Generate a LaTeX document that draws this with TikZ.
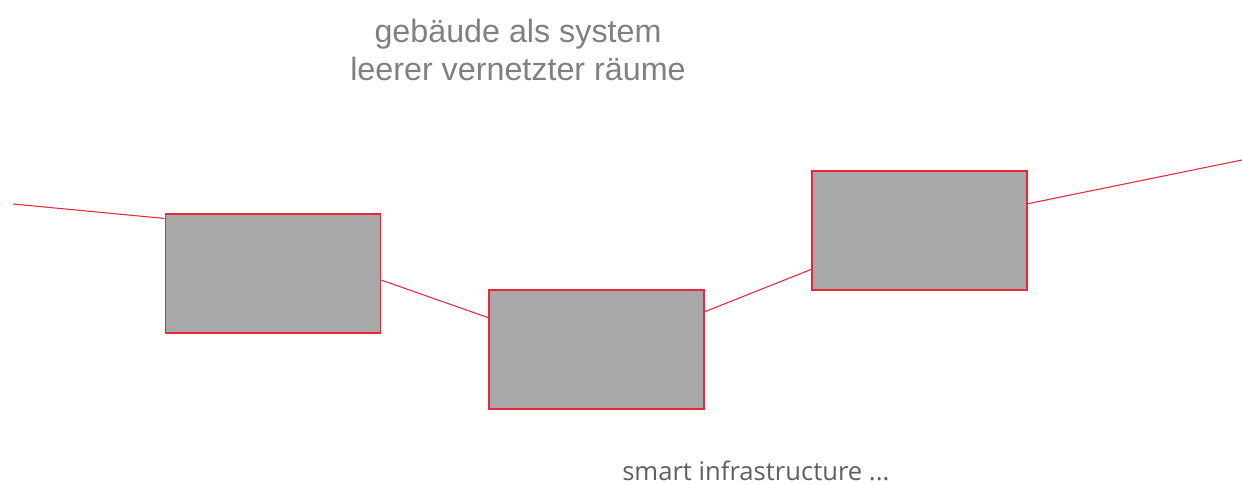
\documentclass[tikz,border=0pt]{standalone}
\usepackage{fontspec}
\setmainfont{Liberation Sans}
\newfontfamily\infrafont{Open Sans}
\usetikzlibrary{calc}
\definecolor{linered}{RGB}{232,40,56}
\definecolor{roomgray}{RGB}{168,168,168}
\definecolor{titlegray}{RGB}{128,128,128}
\definecolor{notegray}{RGB}{95,95,95}
\tikzset{x=0.75pt,y=-0.75pt,
  room/.style={draw=linered,fill=roomgray,line width=1.15pt,inner sep=0pt,
    minimum width=161.5pt,minimum height=89pt},
  link/.style={linered,line width=0.8pt}}

\begin{document}
\begin{tikzpicture}
    \useasboundingbox (0,0) rectangle (1242,484);
    \node [titlegray,align=center,font=\fontsize{24.2}{29}\selectfont,anchor=north] (title) at (518,14) {gebäude als system\\leerer vernetzter räume};
    % rooms
    \node [room] (r1) at (273,273.5) {};
    \node [room] (r2) at (596.5,349.5) {};
    \node [room] (r3) at (919.5,230.5) {};
    \coordinate (in) at (13,204);
    \coordinate (out) at (1242,160);
    % links between the rooms
    \draw [link] (in) -- ($(r1.north west)!.042!(r1.south west)$);
    \draw [link] ($(r1.north east)!.555!(r1.south east)$) -- ($(r2.north west)!.235!(r2.south west)$);
    \draw [link] ($(r2.north east)!.185!(r2.south east)$) -- ($(r3.north west)!.824!(r3.south west)$);
    \draw [link] ($(r3.north east)!.277!(r3.south east)$) -- (out);
    \node [notegray,font=\infrafont\fontsize{19.2}{23}\selectfont,anchor=base west,inner sep=0pt] (note) at (622,480) {smart infrastructure ...};
  \end{tikzpicture}
\end{document}
